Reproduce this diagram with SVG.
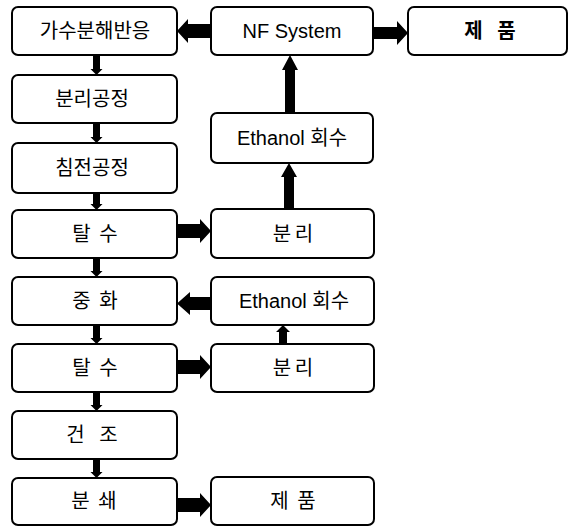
<svg xmlns="http://www.w3.org/2000/svg" width="569" height="526" viewBox="0 0 569 526">
<style>
.box{fill:#fff;stroke:#000;stroke-width:2}
.t{font-family:"Liberation Sans","Noto Sans CJK KR",sans-serif;font-size:20px;fill:#000;text-anchor:middle}
.m{font-size:20px}
.sp{word-spacing:3px}
.sp2{word-spacing:-2px}
.sp3{word-spacing:9px}
.arrow{fill:#000}
</style>
<rect width="569" height="526" fill="#fff"/>
<g id="connectors">
<path class="arrow" d="M93,55H100V69H102.5L96.5,75L90.5,69H93Z"/>
<path class="arrow" d="M93,123H100V137H102.5L96.5,143L90.5,137H93Z"/>
<path class="arrow" d="M93,193H100V204H102.5L96.5,210L90.5,204H93Z"/>
<path class="arrow" d="M93,258H100V271H102.5L96.5,277L90.5,271H93Z"/>
<path class="arrow" d="M93,325H100V338H102.5L96.5,344L90.5,338H93Z"/>
<path class="arrow" d="M93,392H100V405H102.5L96.5,411L90.5,405H93Z"/>
<path class="arrow" d="M93,459H100V472H102.5L96.5,478L90.5,472H93Z"/>
<path class="arrow" d="M210,24H188V19L177,31L188,43V38H210Z"/>
<path class="arrow" d="M373,27H397V21L408,33L397,45V39H373Z"/>
<path class="arrow" d="M285,113V70H282L290,55L298,70H295V113Z"/>
<path class="arrow" d="M284,209V177H281L289,163L297,177H294V209Z"/>
<path class="arrow" d="M177,224H200V219L211,231L200,243V238H177Z"/>
<path class="arrow" d="M211,297H190V292L177,303.5L190,315V310H211Z"/>
<path class="arrow" d="M177,360H200V355L211,367L200,379V374H177Z"/>
<path class="arrow" d="M279,344V332H276L283,325L290,332H287V344Z"/>
<path class="arrow" d="M177,498H200V493L211,505L200,517V512H177Z"/>
</g>
<g id="n1"><rect class="box" x="12" y="7" width="165" height="48" rx="6"/><text class="t" x="95" y="38">가수분해반응</text></g>
<g id="n2"><rect class="box" x="12" y="75" width="165" height="48" rx="6"/><text class="t" x="92" y="106">분리공정</text></g>
<g id="n3"><rect class="box" x="12" y="143" width="165" height="50" rx="6"/><text class="t" x="92" y="175">침전공정</text></g>
<g id="n4"><rect class="box" x="12" y="210" width="165" height="48" rx="6"/><text class="t sp" x="95" y="241">탈 수</text></g>
<g id="n5"><rect class="box" x="12" y="277" width="165" height="48" rx="6"/><text class="t sp" x="95" y="308">중 화</text></g>
<g id="n6"><rect class="box" x="12" y="344" width="165" height="48" rx="6"/><text class="t sp" x="95" y="375">탈 수</text></g>
<g id="n7"><rect class="box" x="12" y="411" width="165" height="48" rx="6"/><text class="t sp3" x="92" y="442">건 조</text></g>
<g id="n8"><rect class="box" x="12" y="478" width="165" height="47" rx="6"/><text class="t sp" x="94" y="508">분 쇄</text></g>
<g id="n9"><rect class="box" x="211" y="7" width="162" height="48" rx="6"/><text class="t m" x="292" y="38">NF System</text></g>
<g id="n10"><rect class="box" x="408" y="7" width="159" height="48" rx="6"/><text class="t sp3" x="490" y="38" font-weight="bold">제 품</text></g>
<g id="n11"><rect class="box" x="211" y="113" width="162" height="50" rx="6"/><text class="t m" x="292" y="145">Ethanol 회수</text></g>
<g id="n12"><rect class="box" x="211" y="209" width="163" height="49" rx="6"/><text class="t sp2" x="293" y="241">분 리</text></g>
<g id="n13"><rect class="box" x="211" y="277" width="163" height="48" rx="6"/><text class="t m" x="294" y="308">Ethanol 회수</text></g>
<g id="n14"><rect class="box" x="211" y="344" width="163" height="48" rx="6"/><text class="t sp2" x="293" y="375">분 리</text></g>
<g id="n15"><rect class="box" x="211" y="477" width="163" height="48" rx="6"/><text class="t sp" x="293" y="508">제 품</text></g>
</svg>
